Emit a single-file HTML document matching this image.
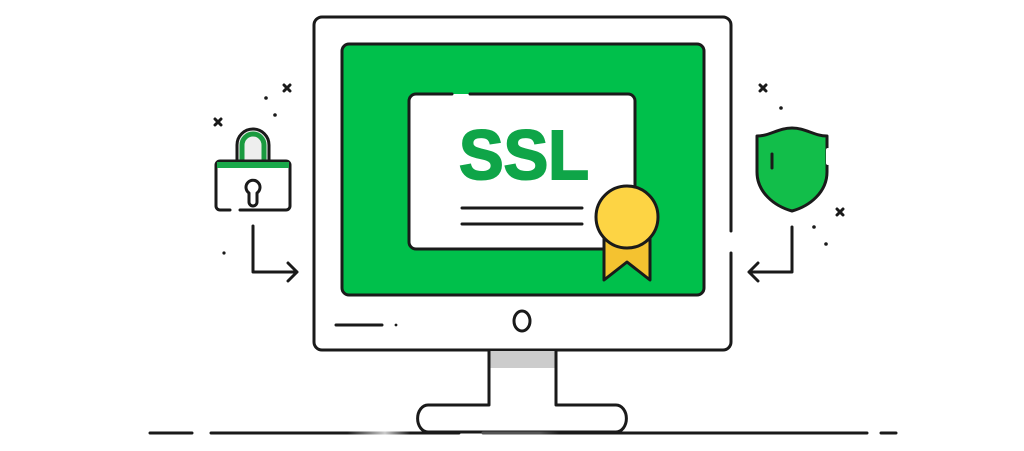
<!DOCTYPE html>
<html><head><style>html,body{margin:0;padding:0;background:#fff;width:1024px;height:451px;overflow:hidden}</style></head>
<body>
<svg width="1024" height="451" viewBox="0 0 1024 451" xmlns="http://www.w3.org/2000/svg">
<defs>
<linearGradient id="fl" gradientUnits="userSpaceOnUse" x1="210" y1="0" x2="460" y2="0">
<stop offset="0" stop-color="#1a1a1a"/><stop offset="0.55" stop-color="#1a1a1a"/><stop offset="0.7" stop-color="#ccc"/><stop offset="0.8" stop-color="#1a1a1a"/><stop offset="1" stop-color="#1a1a1a"/>
</linearGradient>
<linearGradient id="fl2" gradientUnits="userSpaceOnUse" x1="482" y1="0" x2="868" y2="0">
<stop offset="0" stop-color="#555"/><stop offset="0.15" stop-color="#555"/><stop offset="0.2" stop-color="#1a1a1a"/><stop offset="1" stop-color="#1a1a1a"/>
</linearGradient>
</defs>
<g fill="none" stroke="#1a1a1a" stroke-width="3" stroke-linecap="round" stroke-linejoin="round">
<path d="M731 231 V25 a8 8 0 0 0 -8 -8 H322 a8 8 0 0 0 -8 8 V342 a8 8 0 0 0 8 8 H723 a8 8 0 0 0 8 -8 V253" fill="#fff"/>
<rect x="342" y="44" width="362" height="251" rx="7" fill="#00c04b"/>
<path d="M452 94 H416 a7 7 0 0 0 -7 7 V242 a7 7 0 0 0 7 7 H628 a7 7 0 0 0 7 -7 V101 a7 7 0 0 0 -7 -7 H470" fill="#fff"/>
<line x1="462" y1="208" x2="582" y2="208"/>
<line x1="462" y1="224" x2="582" y2="224"/>
<path d="M604 238 V280 L627 262 L650 280 V238 Z" fill="#f4c230"/>
<circle cx="627" cy="217" r="31" fill="#fdd444"/>
<line x1="336" y1="325" x2="382" y2="325"/>
<ellipse cx="522" cy="321" rx="8" ry="10"/>
<rect x="489" y="351" width="67" height="17" fill="#ccc" stroke="none"/>
<path d="M489 351 V405 H428 a10 13 0 0 0 0 27 H616 a10 13 0 0 0 0 -27 H556 V351"/>
<line x1="150" y1="433" x2="192" y2="433"/>
<line x1="211" y1="433" x2="459" y2="433" stroke="url(#fl)"/>
<line x1="483" y1="433" x2="867" y2="433" stroke="url(#fl2)"/>
<line x1="881" y1="433" x2="896" y2="433"/>
<path d="M237 160 V145 a16 16 0 0 1 32 0 V160" fill="#eee"/>
<path d="M242 160 V145 a11 11 0 0 1 22 0 V160" stroke="#1a9a3f" stroke-width="5"/>
<path d="M230 210 H220 a4 4 0 0 1 -4 -4 V165 a4 4 0 0 1 4 -4 H286 a4 4 0 0 1 4 4 V206 a4 4 0 0 1 -4 4 H240" fill="#fff"/>
<rect x="217" y="162" width="72" height="6" fill="#1aa84a" stroke="none"/>
<path d="M249 193 a7 7 0 1 1 8 0 V202 a4 4 0 0 1 -8 0 Z"/>
<path d="M253 226 V272 H297 M288 263 L297 272 L288 281"/>
<path d="M792 128 C778 128 770 136 757 136 V172 C757 192 774 206 792 211 C810 206 827 192 827 172 V136 C814 136 806 128 792 128 Z" fill="#12be4a"/>
<line x1="828" y1="150" x2="828" y2="163" stroke="#fff" stroke-width="4"/>
<line x1="772" y1="154" x2="772" y2="168"/>
<path d="M792 227 V272 H749 M758 263 L749 272 L758 281"/>
<path d="M284 85 l6 6 m0 -6 l-6 6 M215 119 l6 6 m0 -6 l-6 6 M760 85 l6 6 m0 -6 l-6 6 M837 209 l6 6 m0 -6 l-6 6"/>
</g>
<g fill="#1a1a1a">
<circle cx="266" cy="98" r="1.8"/><circle cx="275" cy="115" r="1.8"/><circle cx="224" cy="253" r="1.6"/>
<circle cx="781" cy="108" r="1.8"/><circle cx="814" cy="227" r="1.8"/><circle cx="826" cy="244" r="1.8"/>
<circle cx="396" cy="325" r="1.4"/>
</g>
<text x="459" y="179" font-family="Liberation Sans, sans-serif" font-weight="bold" font-size="70" fill="#0fa548" stroke="#0fa548" stroke-width="2" textLength="130" lengthAdjust="spacingAndGlyphs">SSL</text>
</svg>
</body></html>
